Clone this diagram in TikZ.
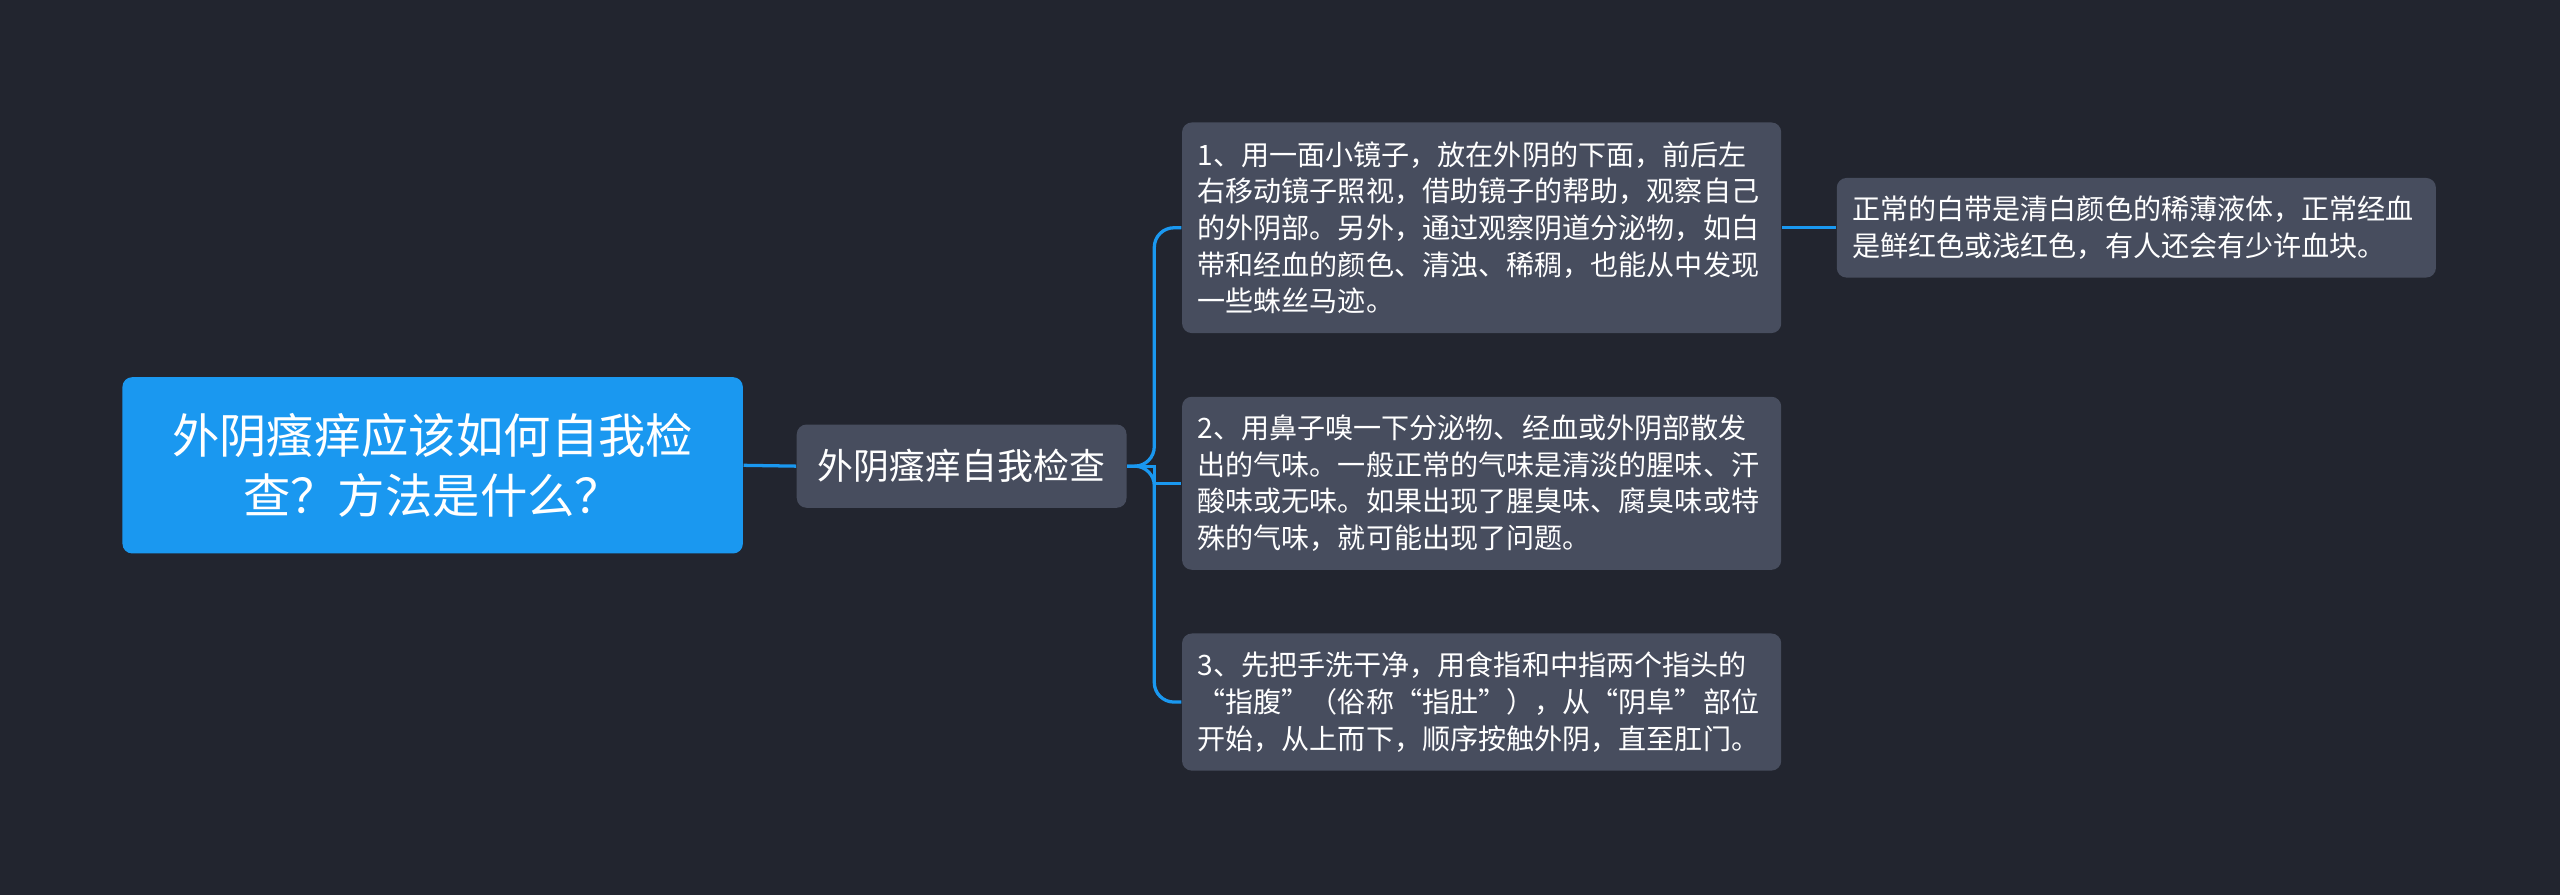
\documentclass[tikz,border=0pt]{standalone}
\usepackage{fontspec}
\setmainfont{Noto Sans CJK SC}
\begin{document}
\begin{tikzpicture}[x=0.5pt,y=-0.5pt,
  box/.style={fill=boxc,rounded corners=3pt,text=white,inner sep=0pt},
  leaf/.style={box,minimum width=183.5pt,text width=174pt,align=left,font=\fontsize{8.6pt}{11.25pt}\selectfont},
  link/.style={draw=linec,line width=1pt}]
\definecolor{bg}{HTML}{22252F}
\definecolor{boxc}{HTML}{474D5E}
\definecolor{rootc}{HTML}{1A98F0}
\definecolor{linec}{HTML}{1A98F0}
\fill[bg] (0,0) rectangle (1568,548);
\useasboundingbox (0,0) rectangle (1568,548);
\node[box,fill=rootc,minimum width=190pt,minimum height=54pt,align=center,font=\fontsize{14.5pt}{18.5pt}\selectfont] (root) at (265,285) {外阴瘙痒应该如何自我检\\查？方法是什么？};
\node[box,minimum width=101pt,minimum height=25.5pt,font=\fontsize{11pt}{13pt}\selectfont] (mid) at (589,285.5) {外阴瘙痒自我检查};
\node[leaf,minimum height=64.5pt] (l1) at (907.5,139.5) {1、用一面小镜子，放在外阴的下面，前后左\\右移动镜子照视，借助镜子的帮助，观察自己\\的外阴部。另外，通过观察阴道分泌物，如白\\带和经血的颜色、清浊、稀稠，也能从中发现\\一些蛛丝马迹。};
\node[leaf,minimum height=53pt] (l2) at (907.5,296) {2、用鼻子嗅一下分泌物、经血或外阴部散发\\出的气味。一般正常的气味是清淡的腥味、汗\\酸味或无味。如果出现了腥臭味、腐臭味或特\\殊的气味，就可能出现了问题。};
\node[leaf,minimum height=42pt] (l3) at (907.5,430) {3、先把手洗干净，用食指和中指两个指头的\\“指腹”（俗称“指肚”），从“阴阜”部位\\开始，从上而下，顺序按触外阴，直至肛门。};
\node[leaf,minimum height=30.5pt] (r1) at (1308.5,139.5) {正常的白带是清白颜色的稀薄液体，正常经血\\是鲜红色或浅红色，有人还会有少许血块。};
\draw[link] (root.east) -- (mid.west);
\draw[link] (l1.east) -- (r1.west);
\draw[link,rounded corners=6pt] (mid.east) -- (707,285.5) |- (l1.west);
\draw[link,rounded corners=6pt] (mid.east) -- (707,285.5) |- (l3.west);
\draw[link] (mid.east) -- (707,285.5) |- (l2.west);
\end{tikzpicture}
\end{document}
